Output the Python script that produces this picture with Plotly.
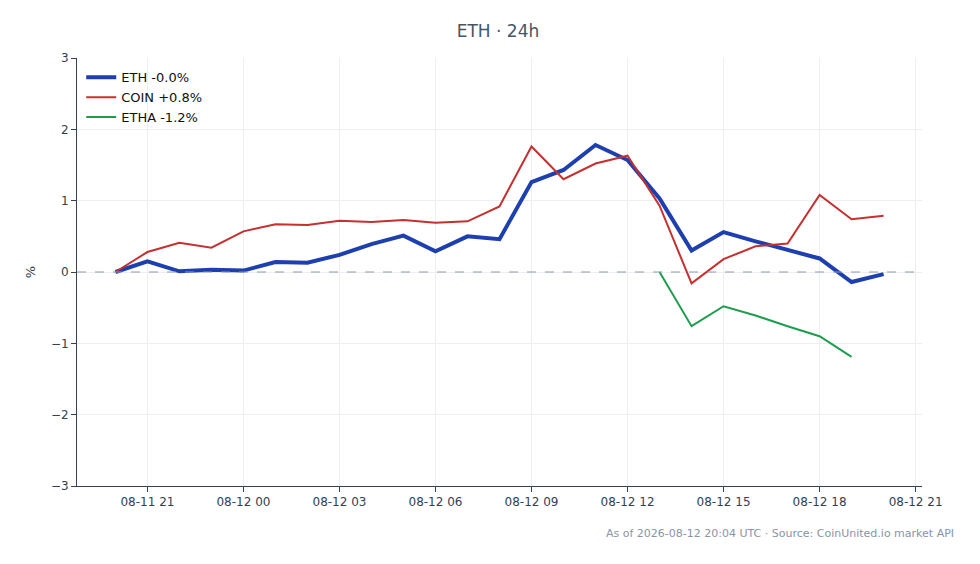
import pandas as pd
import plotly.graph_objects as go

# hourly closes, % change vs. first point
times = pd.date_range("2026-08-11 20:00", "2026-08-12 20:00", freq="1h")

eth = [0.00, 0.15, 0.01, 0.03, 0.02, 0.14, 0.13, 0.24, 0.39, 0.51, 0.29, 0.50, 0.46,
       1.26, 1.43, 1.78, 1.57, 1.03, 0.30, 0.56, 0.43, 0.31, 0.19, -0.14, -0.03]
coin = [0.00, 0.28, 0.41, 0.34, 0.57, 0.67, 0.66, 0.72, 0.70, 0.73, 0.69, 0.71, 0.92,
        1.76, 1.30, 1.52, 1.63, 0.93, -0.16, 0.18, 0.36, 0.40, 1.08, 0.74, 0.79]
etha = [None] * 17 + [0.00, -0.76, -0.48, -0.61, -0.76, -0.90, -1.19, None]

series = [
    ("ETH -0.0%", eth, "#1e40af", 4),
    ("COIN +0.8%", coin, "#c53030", 2),
    ("ETHA -1.2%", etha, "#1f9d4f", 2),
]

fig = go.Figure()
for name, vals, color, width in series:
    fig.add_trace(go.Scatter(x=times, y=vals, mode="lines", name=name,
                             line=dict(color=color, width=width)))

fig.add_hline(y=0, line=dict(color="#8a9bb0", width=1, dash="dash"))

pad = (times[-1] - times[0]) * 0.05
fig.update_layout(
    width=980, height=564,
    margin=dict(l=69, r=66, t=50, b=86),
    paper_bgcolor="white", plot_bgcolor="white",
    font=dict(family="DejaVu Sans", size=13, color="#334155"),
    title=dict(text="ETH · 24h", x=0.5, xanchor="center", y=0.97,
               font=dict(size=17, color="#475569")),
    legend=dict(x=0.005, y=0.99, xanchor="left", yanchor="top",
                bgcolor="rgba(255,255,255,0)", font=dict(size=13, color="#111")),
    showlegend=True,
)
fig.update_xaxes(
    range=[times[0] - pad, times[-1] + pad],
    tickformat="%m-%d %H", dtick=3 * 3600 * 1000,
    tick0="2026-08-11 21:00",
    showgrid=True, gridcolor="#eeeeee",
    showline=True, linecolor="#334155", linewidth=1,
    ticks="outside", tickcolor="#334155", ticklen=5,
    tickfont=dict(size=12, color="#334155"),
)
fig.update_yaxes(
    range=[-3, 3], dtick=1,
    title=dict(text="%", font=dict(size=13, color="#334155"), standoff=12),
    showgrid=True, gridcolor="#eeeeee", zeroline=False,
    showline=True, linecolor="#334155", linewidth=1,
    ticks="outside", tickcolor="#334155", ticklen=5,
    tickfont=dict(size=12, color="#334155"),
)
fig.add_annotation(
    text="As of 2026-08-12 20:04 UTC · Source: CoinUnited.io market API",
    xref="paper", yref="paper", x=1.04, y=-0.091, xanchor="right", yanchor="top",
    showarrow=False, font=dict(size=11, color="#8a94a6"),
)

fig.write_html("out.html")
